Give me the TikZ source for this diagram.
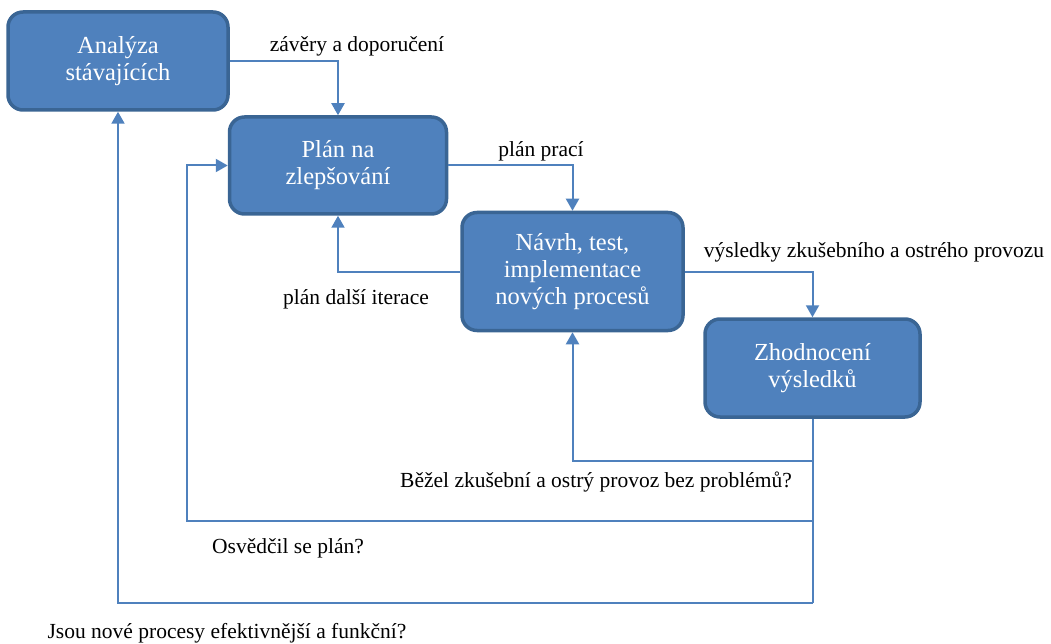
\documentclass[tikz,border=0pt]{standalone}
\usepackage{fontspec}
\setmainfont{Liberation Serif}
\usetikzlibrary{arrows.meta}
\definecolor{boxfill}{HTML}{4F81BD}
\definecolor{boxedge}{HTML}{3A6594}
\definecolor{linkblue}{HTML}{4F81BD}
\tikzset{
  procbox/.style={draw=boxedge, line width=3.5pt, fill=boxfill, rounded corners=15pt,
    text=white, align=center, inner sep=0pt, font=\fontsize{24.5}{27}\selectfont},
  link/.style={draw=linkblue, line width=2pt, -{Triangle[width=13pt,length=12pt]}},
  plain/.style={draw=linkblue, line width=2pt},
  lbl/.style={inner sep=0pt, font=\fontsize{21.5}{24}\selectfont}
}
\begin{document}
\begin{tikzpicture}[x=1pt,y=-1pt]
\useasboundingbox (0,0) rectangle (1051,644);

% process boxes
\node[procbox, minimum width=220pt, minimum height=98pt] (A) at (118,61) {Analýza\\stávajících};
\node[procbox, minimum width=217pt, minimum height=97pt] (B) at (338,165.5) {Plán na\\zlepšování};
\node[procbox, minimum width=221pt, minimum height=118pt] (C) at (572.5,271.5) {Návrh, test,\\implementace\\nových procesů};
\node[procbox, minimum width=215pt, minimum height=98pt] (D) at (812.5,368) {Zhodnocení\\výsledků};

% forward flow
\draw[link] (A.east) -| (B.north);
\draw[link] (B.east) -| (C.north);
\draw[link] (C.east) -| (D.north);
\draw[link] (C.west) -| (B.south);

% feedback loops from the evaluation
\coordinate (j1) at (812.5,461);
\coordinate (j2) at (812.5,521);
\coordinate (j3) at (812.5,603);
\coordinate (k2) at (187,521);
\draw[plain] (D.south) -- (j3);
\draw[link] (j1) -| (C.south);
\draw[link] (j2) -- (k2) |- (B.west);
\draw[link] (j3) -| (A.south);

% labels
\node[lbl] (l1) at (357,46) {závěry a doporučení};
\node[lbl] (l2) at (541,151) {plán prací};
\node[lbl] (l3) at (874,252) {výsledky zkušebního a ostrého provozu};
\node[lbl] (l4) at (356,299) {plán další iterace};
\node[lbl] (l5) at (596,482) {Běžel zkušební a ostrý provoz bez problémů?};
\node[lbl] (l6) at (288,548) {Osvědčil se plán?};
\node[lbl] (l7) at (227,633) {Jsou nové procesy efektivnější a funkční?};
\end{tikzpicture}
\end{document}
